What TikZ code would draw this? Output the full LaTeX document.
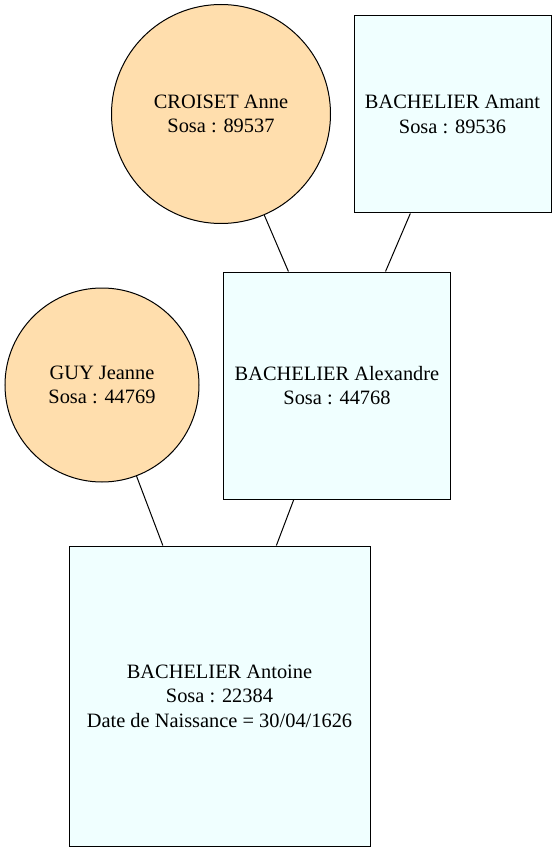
\documentclass[tikz,border=0pt]{standalone}
\usepackage{fontspec}
\setmainfont{Liberation Serif}
\usetikzlibrary{calc}
\definecolor{femme}{HTML}{FFDEAD}
\definecolor{homme}{HTML}{F0FFFF}
\tikzset{%
  myedge/.style={line width=0.75pt},
  femmenode/.style={circle, draw=black, line width=0.75pt, fill=femme, inner sep=0pt, align=center,
    font=\fontsize{15.3}{18.4}\selectfont},
  hommenode/.style={rectangle, draw=black, line width=0.75pt, fill=homme, inner sep=0pt, align=center,
    font=\fontsize{15.3}{18.4}\selectfont}
}

\begin{document}
\begin{tikzpicture}[x=0.75pt, y=-0.75pt]
\useasboundingbox (0,0) rectangle (557,852);

% personnes
\node (croiset) [femmenode, minimum size=164.25pt] at (221, 114) {CROISET Anne\\Sosa : 89537};
\node (amant) [hommenode, minimum size=147.75pt] at (452.5, 114.5) {BACHELIER Amant\\Sosa : 89536};
\node (guy) [femmenode, minimum size=145.5pt] at (102, 385) {GUY Jeanne\\Sosa : 44769};
\node (alexandre) [hommenode, minimum size=170.25pt] at (337, 385.5) {BACHELIER Alexandre\\Sosa : 44768};
\node (antoine) [hommenode, minimum width=225.75pt, minimum height=225pt] at (219.5, 696)
  {BACHELIER Antoine\\Sosa : 22384\\Date de Naissance = 30/04/1626};

% liens
\draw [myedge] (croiset) -- (alexandre);
\draw [myedge] (amant) -- (alexandre);
\draw [myedge] (guy) -- (antoine);
\draw [myedge] (alexandre) -- (antoine);
\end{tikzpicture}
\end{document}
